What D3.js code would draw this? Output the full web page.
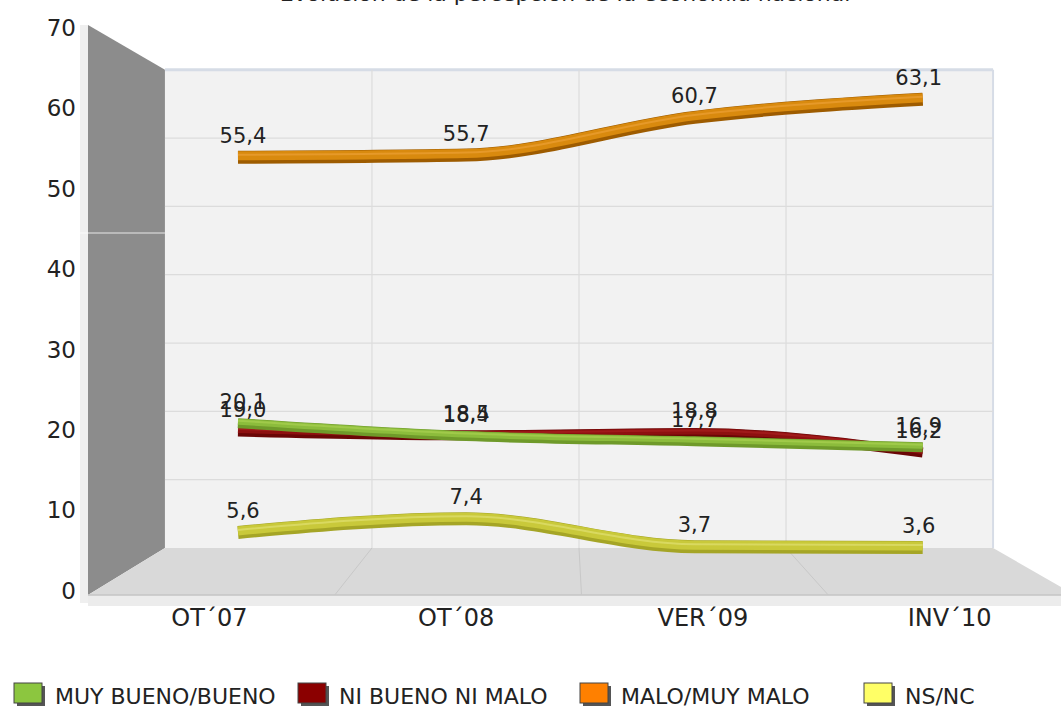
<!DOCTYPE html>
<html>
<head>
<meta charset="utf-8">
<script src="https://cdn.jsdelivr.net/npm/d3@7"></script>
<style>
  body { margin: 0; background: #fff; }
  svg { display: block; font-family: 'DejaVu Sans', sans-serif; }
</style>
</head>
<body>
<svg width="1061" height="709"></svg>
<script>
const categories = ['OT´07', 'OT´08', 'VER´09', 'INV´10'];
const seriesNames = ['MUY BUENO/BUENO', 'NI BUENO NI MALO', 'MALO/MUY MALO', 'NS/NC'];
const muyBueno = [20.1, 18.4, 17.7, 16.9];
const niBueno = [19.0, 18.5, 18.8, 16.2];
const malo = [55.4, 55.7, 60.7, 63.1];
const nsnc = [5.6, 7.4, 3.7, 3.6];
const yTickValues = [0, 10, 20, 30, 40, 50, 60, 70];
const titleText = 'Evolución de la percepción de la economía nacional';

const colors = {
  'MUY BUENO/BUENO': { base: '#8cbc3c', dark: '#6f9a2a', light: '#a8d050', box: '#8cc63f' },
  'NI BUENO NI MALO': { base: '#8e1010', dark: '#6a0606', light: '#a82020', box: '#8b0000' },
  'MALO/MUY MALO': { base: '#d98a0e', dark: '#9e5c00', light: '#eba035', box: '#ff8000' },
  'NS/NC': { base: '#c9c93a', dark: '#a5a526', light: '#e0e070', box: '#ffff66' }
};

const svg = d3.select('svg');

// perspective: front plane and vanishing point
const vp = { x: 566, y: 303 };
const backS = 0.839;
const lineS = 0.925;

const xFront = d3.scaleBand().domain(categories).range([88, 1075]);
const yFront = d3.scaleLinear().domain([0, 70]).range([595, 25]);

const proj = (xf, yf, s) => [vp.x + s * (xf - vp.x), vp.y + s * (yf - vp.y)];

// title (cut off at top)
svg.append('text')
  .attr('x', 565).attr('y', 1)
  .attr('text-anchor', 'middle')
  .style('font-size', '22px')
  .attr('fill', '#222')
  .text(titleText);

const x0 = xFront.range()[0], x1 = xFront.range()[1];
const corner = (xf, v, s) => proj(xf, yFront(v), s);

// left wall
const lw = [corner(x0, 70, 1), corner(x0, 70, backS), corner(x0, 0, backS), corner(x0, 0, 1)];
svg.append('polygon')
  .attr('points', [[x0 - 8, 25], [x0, 25], [x0, 603], [x0 - 8, 603]].join(' '))
  .attr('fill', '#efefef');
svg.append('polygon').attr('points', lw.join(' ')).attr('fill', '#8c8c8c');

// back wall
const bw = [corner(x0, 70, backS), corner(x1, 70, backS), corner(x1, 0, backS), corner(x0, 0, backS)];
svg.append('polygon').attr('points', bw.join(' ')).attr('fill', '#f2f2f2');
svg.append('line')
  .attr('x1', bw[0][0]).attr('y1', bw[0][1])
  .attr('x2', bw[1][0]).attr('y2', bw[1][1])
  .attr('stroke', '#d6dce6').attr('stroke-width', 3);
svg.append('line')
  .attr('x1', bw[1][0]).attr('y1', bw[1][1])
  .attr('x2', bw[2][0]).attr('y2', bw[2][1])
  .attr('stroke', '#d6dce6').attr('stroke-width', 2);

// back wall gridlines
svg.append('g').selectAll('line')
  .data(yTickValues.filter(v => v > 0 && v < 70))
  .join('line')
  .attr('x1', d => corner(x0, d, backS)[0])
  .attr('x2', d => corner(x1, d, backS)[0])
  .attr('y1', d => corner(x0, d, backS)[1])
  .attr('y2', d => corner(x0, d, backS)[1])
  .attr('stroke', '#dcdcdc').attr('stroke-width', 1.2);

const bounds = categories.slice(1).map(c => xFront(c));
svg.append('g').selectAll('line')
  .data(bounds)
  .join('line')
  .attr('x1', d => corner(d, 0, backS)[0])
  .attr('x2', d => corner(d, 70, backS)[0])
  .attr('y1', d => corner(d, 0, backS)[1])
  .attr('y2', d => corner(d, 70, backS)[1])
  .attr('stroke', '#dcdcdc').attr('stroke-width', 1.2);

// floor
const fl = [corner(x0, 0, backS), corner(x1, 0, backS), corner(x1, 0, 1), corner(x0, 0, 1)];
svg.append('polygon')
  .attr('points', [[x0, 595], [1075, 595], [1075, 606], [x0, 606]].join(' '))
  .attr('fill', '#ececec');
svg.append('polygon').attr('points', fl.join(' ')).attr('fill', '#d9d9d9');
svg.append('line')
  .attr('x1', x0).attr('x2', 1075).attr('y1', 595).attr('y2', 595)
  .attr('stroke', '#c4c4c4').attr('stroke-width', 1.5);
svg.append('g').selectAll('line')
  .data(bounds)
  .join('line')
  .attr('x1', d => corner(d, 0, backS)[0])
  .attr('x2', d => corner(d, 0, 1)[0])
  .attr('y1', d => corner(d, 0, backS)[1])
  .attr('y2', d => corner(d, 0, 1)[1])
  .attr('stroke', '#c8c8c8').attr('stroke-width', 1);

// seam artifact
svg.append('line')
  .attr('x1', 0).attr('x2', bw[0][0]).attr('y1', 233).attr('y2', 233)
  .attr('stroke', '#ffffff').attr('stroke-width', 1.2).attr('opacity', 0.8);

// y axis labels
const yLabelScale = d3.scaleLinear().domain([0, 70]).range([591, 28]);
const yAxisG = svg.append('g').attr('transform', 'translate(76,0)')
  .call(d3.axisLeft(yLabelScale).tickValues(yTickValues).tickSize(0).tickPadding(0));
yAxisG.select('.domain').remove();
yAxisG.selectAll('text')
  .style('font-size', '23px')
  .style('font-family', "'DejaVu Sans', sans-serif")
  .attr('fill', '#222');

// x axis labels
const xAxisG = svg.append('g').attr('transform', 'translate(-2,609)')
  .call(d3.axisBottom(xFront).tickSize(0).tickPadding(0));
xAxisG.select('.domain').remove();
xAxisG.selectAll('text')
  .style('font-size', '24px')
  .style('font-family', "'DejaVu Sans', sans-serif")
  .attr('fill', '#222');

// lines
const series = [
  { name: 'NS/NC', values: nsnc, w: 13 },
  { name: 'MALO/MUY MALO', values: malo, w: 13 },
  { name: 'NI BUENO NI MALO', values: niBueno, w: 10 },
  { name: 'MUY BUENO/BUENO', values: muyBueno, w: 10 }
];

const line = d3.line()
  .x(d => d[0]).y(d => d[1])
  .curve(d3.curveMonotoneX);

const pts = s => s.values.map((v, i) =>
  proj(xFront(categories[i]) + xFront.bandwidth() / 2, yFront(v), lineS));

const lineG = svg.append('g');
series.forEach(s => {
  const p = pts(s);
  const c = colors[s.name];
  lineG.append('path')
    .attr('d', line(p.map(d => [d[0], d[1] + 1.5])))
    .attr('fill', 'none').attr('stroke', c.dark)
    .attr('stroke-width', s.w);
  lineG.append('path')
    .attr('d', line(p))
    .attr('fill', 'none').attr('stroke', c.base)
    .attr('stroke-width', s.w - 4);
  lineG.append('path')
    .attr('d', line(p.map(d => [d[0], d[1] - 1])))
    .attr('fill', 'none').attr('stroke', c.light)
    .attr('stroke-width', 2).attr('opacity', 0.7);
});

// value labels
const fmt = v => d3.format('.1f')(v).replace('.', ',');
series.forEach(s => {
  const p = pts(s);
  svg.append('g').selectAll('text')
    .data(s.values)
    .join('text')
    .attr('x', (d, i) => p[i][0] + (i === 0 ? 5 : i === 3 ? -4 : 0))
    .attr('y', (d, i) => p[i][1] - 13)
    .attr('text-anchor', 'middle')
    .style('font-size', '21px')
    .attr('fill', '#222')
    .text(fmt);
});

// legend
const legendX = [14, 298, 580, 864];
const legend = svg.append('g').selectAll('g')
  .data(seriesNames)
  .join('g')
  .attr('transform', (d, i) => `translate(${legendX[i]},683)`);
legend.append('rect')
  .attr('x', 3).attr('y', 3).attr('width', 28).attr('height', 20)
  .attr('fill', '#555');
legend.append('rect')
  .attr('width', 28).attr('height', 20)
  .attr('fill', d => colors[d].box)
  .attr('stroke', '#444').attr('stroke-width', 1);
legend.append('text')
  .attr('x', 41).attr('y', 21)
  .style('font-size', '22px')
  .attr('fill', '#222')
  .text(d => d);
</script>
</body>
</html>
